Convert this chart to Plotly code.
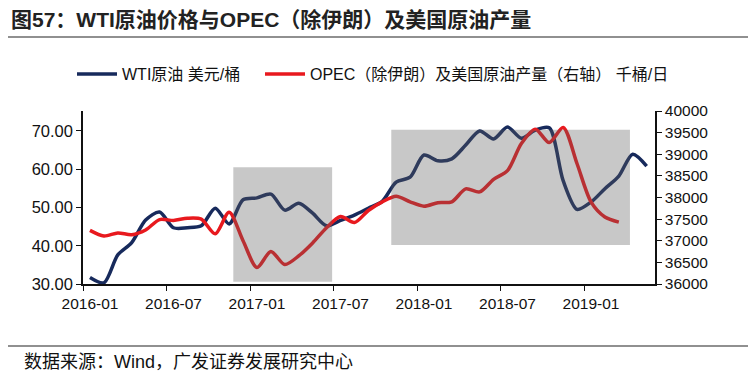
import plotly.graph_objects as go

# ---- data ----
months = [f"{y}-{m:02d}" for y in (2016, 2017, 2018, 2019) for m in range(1, 13)][:41]

wti = [31.7, 30.3, 37.6, 40.8, 46.7, 48.8, 44.7, 44.7, 45.2, 49.8,
       45.7, 52.0, 52.5, 53.5, 49.3, 51.1, 48.5, 45.2, 46.6, 48.0,
       49.8, 51.6, 56.6, 57.9, 63.7, 62.2, 62.7, 66.3, 70.0, 67.9,
       71.0, 68.1, 70.2, 70.8, 57.0, 49.5, 51.4, 54.9, 58.2, 63.9,
       60.8]

opec_us = [37240, 37110, 37180, 37140, 37250, 37490, 37470, 37520, 37500, 37160,
           37660, 37000, 36380, 36750, 36450, 36650, 36950, 37300, 37560, 37420,
           37700, 37900, 38030, 37900, 37800, 37880, 37900, 38200, 38130, 38420,
           38620, 39250, 39580, 39270, 39620, 38780, 37900, 37550, 37430]

# shaded periods: (x start, x end) in month index, (y low, y high) on left axis
shade_x = [(10.3, 17.4), (21.65, 38.8)]
shade_y = [(30.6, 60.5), (40.2, 70.3)]

left_ticks = [30, 40, 50, 60, 70]
right_ticks = list(range(36000, 40001, 500))
xtick_idx = [0, 6, 12, 18, 24, 30, 36]

FONT = "Liberation Sans, Arial, Noto Sans CJK SC, sans-serif"
NAVY = "#172a5c"
RED = "#e8191e"

# page body has an 8px margin: figure is sized/offset so the plot lands at page px
PL, PR, PT, PB = 83, 655, 111, 284          # plot area in page pixels
PW, PH = PR - PL, PB - PT


def px(x):
    return (x - PL) / PW


def py(y):
    return (PB - y) / PH


x_w = list(range(len(wti)))
x_o = list(range(len(opec_us)))

fig = go.Figure()
fig.add_trace(go.Scatter(
    x=x_w, y=wti, name="WTI原油 美元/桶", mode="lines",
    line=dict(color=NAVY, width=3.5, shape="spline", smoothing=0.8),
    yaxis="y", legend="legend"))
fig.add_trace(go.Scatter(
    x=x_o, y=opec_us, name="OPEC（除伊朗）及美国原油产量（右轴） 千桶/日", mode="lines",
    line=dict(color=RED, width=3.5, shape="spline", smoothing=0.8),
    yaxis="y2", legend="legend2"))

shapes = []
for (x0, x1), (y0, y1) in zip(shade_x, shade_y):
    shapes.append(dict(type="rect", xref="x", yref="y", x0=x0, x1=x1, y0=y0, y1=y1,
                       fillcolor="rgba(95,95,95,0.34)", line=dict(width=0), layer="above"))
shapes.append(dict(type="line", xref="paper", yref="paper",
                   x0=px(8), x1=px(750), y0=py(37), y1=py(37),
                   line=dict(color="#222222", width=1.2)))
shapes.append(dict(type="line", xref="paper", yref="paper",
                   x0=px(8), x1=px(750), y0=py(346), y1=py(346),
                   line=dict(color="#222222", width=1.2)))

annotations = [
    dict(text="<b>图57：WTI原油价格与OPEC（除伊朗）及美国原油产量</b>",
         xref="paper", yref="paper", x=px(9), y=py(19),
         xanchor="left", yanchor="middle", showarrow=False,
         font=dict(family=FONT, size=21, color="#222222")),
    dict(text="数据来源：Wind，广发证券发展研究中心",
         xref="paper", yref="paper", x=px(22), y=py(362),
         xanchor="left", yanchor="middle", showarrow=False,
         font=dict(family=FONT, size=18, color="#111111")),
]

legend_common = dict(orientation="h", xanchor="left", yanchor="middle",
                     font=dict(family=FONT, size=16, color="#111111"),
                     itemwidth=40, bgcolor="rgba(0,0,0,0)")

fig.update_layout(
    width=756 - 8, height=375 - 8,
    margin=dict(l=PL - 8, r=756 - PR, t=PT - 8, b=375 - PB),
    paper_bgcolor="white", plot_bgcolor="white",
    font=dict(family=FONT, size=15, color="#111111"),
    showlegend=True,
    legend=dict(x=px(72), y=py(74), **legend_common),
    legend2=dict(x=px(260), y=py(74), **legend_common),
    shapes=shapes,
    annotations=annotations,
    xaxis=dict(
        range=[-0.5, 40.6],
        tickmode="array",
        tickvals=[i - 0.5 for i in xtick_idx],
        ticktext=[months[i] for i in xtick_idx],
        ticklabelshift=7,
        ticks="outside", ticklen=5, tickcolor="#111111",
        showline=True, linecolor="#111111", linewidth=1.5,
        showgrid=False, zeroline=False,
        tickfont=dict(family=FONT, size=15.5, color="#111111"),
    ),
    yaxis=dict(
        range=[30, 75.2],
        tickmode="array", tickvals=left_ticks,
        ticktext=[f"{v:.2f}" for v in left_ticks],
        ticks="outside", ticklen=5, tickcolor="#111111",
        showline=True, linecolor="#111111", linewidth=1.5,
        showgrid=False, zeroline=False,
        tickfont=dict(family=FONT, size=16.5, color="#111111"),
    ),
    yaxis2=dict(
        range=[36000, 40000], overlaying="y", side="right",
        tickmode="array", tickvals=right_ticks,
        ticktext=[str(v) for v in right_ticks],
        ticks="outside", ticklen=5, tickcolor="#111111",
        showline=True, linecolor="#111111", linewidth=1.5,
        showgrid=False, zeroline=False,
        tickfont=dict(family=FONT, size=15.5, color="#111111"),
    ),
)

fig.write_html("out.html")
